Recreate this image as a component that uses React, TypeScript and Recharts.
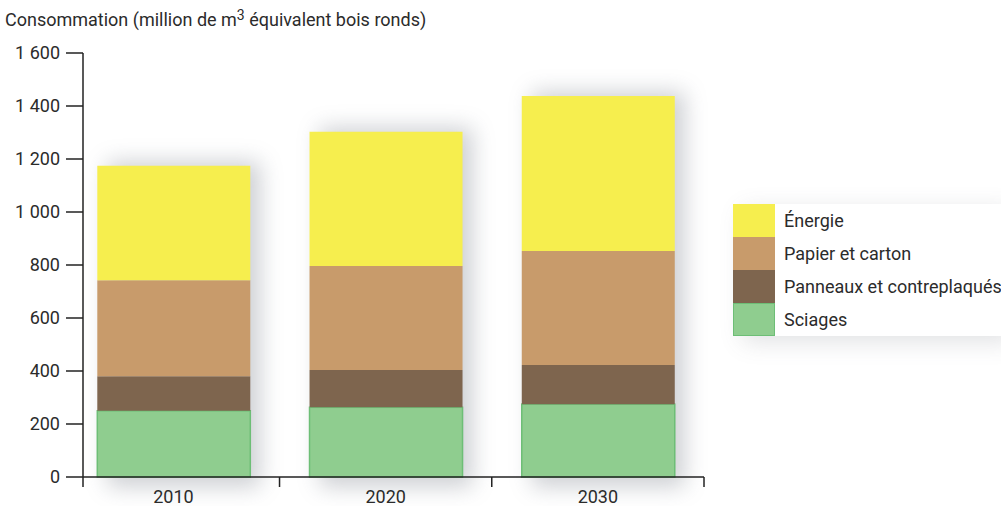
import React from "react";
import { BarChart, Bar, XAxis, YAxis } from "recharts";

const years = ["2010", "2020", "2030"];
const sciages = [250, 263, 275];
const panneaux = [130, 141, 148];
const papier = [362, 392, 430];
const energie = [433, 507, 585];
const yTicks = [0, 200, 400, 600, 800, 1000, 1200, 1400, 1600];

const series = [
  { key: "energie", name: "Énergie", color: "#f6ee4e" },
  { key: "papier", name: "Papier et carton", color: "#c89b6b" },
  { key: "panneaux", name: "Panneaux et contreplaqués", color: "#7e654e" },
  { key: "sciages", name: "Sciages", color: "#8fcd8f", stroke: "#6dbe76" },
];

const data = years.map((year, i) => ({
  idx: i,
  year,
  sciages: sciages[i],
  panneaux: panneaux[i],
  papier: papier[i],
  energie: energie[i],
}));

const FONT = "Roboto, 'Noto Sans', sans-serif";
const INK = "#2b2b2b";
const FS = 18;

const formatThousands = (v: number) =>
  v >= 1000 ? `${Math.floor(v / 1000)} ${String(v % 1000).padStart(3, "0")}` : String(v);

// bottom segment also paints the blurred shadow of the whole column
const SciagesShape = (props: any) => {
  const { x, y, width, height, payload } = props;
  const total =
    payload.sciages + payload.panneaux + payload.papier + payload.energie;
  const totalH = (height / payload.sciages) * total;
  const top = y + height - totalH;
  return (
    <g>
      <defs>
        <filter id="colShadow" x="-50%" y="-50%" width="200%" height="200%">
          <feGaussianBlur stdDeviation="11" />
        </filter>
      </defs>
      <rect
        x={x + 10}
        y={top - 4}
        width={width}
        height={totalH + 14}
        fill="#6f7681"
        opacity={0.34}
        filter="url(#colShadow)"
      />
      <rect
        x={x}
        y={y}
        width={width}
        height={height}
        fill="#8fcd8f"
        stroke="#6dbe76"
        strokeWidth={1.5}
      />
    </g>
  );
};

const XTick = (props: any) => {
  const { x, y, payload } = props;
  const v = payload.value;
  if (Number.isInteger(v)) {
    return (
      <text
        x={x}
        y={y + 26}
        textAnchor="middle"
        fontSize={FS}
        fontFamily={FONT}
        fill={INK}
      >
        {years[v]}
      </text>
    );
  }
  return <line x1={x} x2={x} y1={y} y2={y + 10} stroke="#222" strokeWidth={1.5} />;
};

const LegendBox = () => (
  <div
    style={{
      position: "absolute",
      left: 733,
      top: 204,
      background: "#fff",
      boxShadow: "10px 6px 22px rgba(90,95,105,0.18)",
      fontFamily: FONT,
      fontSize: FS,
      color: INK,
    }}
  >
    {series.map((s) => (
      <div key={s.key} style={{ display: "flex", alignItems: "center", height: 33 }}>
        <div
          style={{
            width: 42,
            height: 33,
            boxSizing: "border-box",
            background: s.color,
            border: s.stroke ? `1.5px solid ${s.stroke}` : "none",
          }}
        />
        <span style={{ marginLeft: 9, whiteSpace: "nowrap" }}>{s.name}</span>
      </div>
    ))}
  </div>
);

export default function App() {
  return (
    <div
      style={{
        position: "absolute",
        left: 0,
        top: 0,
        width: 1001,
        height: 506,
        background: "#fff",
        fontFamily: FONT,
        overflow: "hidden",
      }}
    >
      <div
        style={{
          position: "absolute",
          left: 5,
          top: 9,
          fontSize: FS,
          lineHeight: "22px",
          color: INK,
          whiteSpace: "nowrap",
        }}
      >
        Consommation (million de m
        <span style={{ fontSize: 14, position: "relative", top: -6 }}>3</span>{" "}
        équivalent bois ronds)
      </div>
      <BarChart
        width={1001}
        height={506}
        data={data}
        margin={{ top: 53, right: 297, bottom: 0, left: 0 }}
        style={{ position: "absolute", left: 0, top: 0 }}
      >
        <XAxis
          dataKey="idx"
          type="number"
          domain={[-0.426, 2.5]}
          ticks={[-0.426, 0, 0.5, 1, 1.5, 2, 2.5]}
          interval={0}
          tickLine={false}
          tickSize={0}
          tickMargin={0}
          height={29}
          axisLine={{ stroke: "#222", strokeWidth: 1.5 }}
          tick={<XTick />}
        />
        <YAxis
          domain={[0, 1600]}
          ticks={yTicks}
          width={83}
          tickSize={17}
          tickMargin={6}
          tickFormatter={formatThousands}
          axisLine={{ stroke: "#222", strokeWidth: 1.5 }}
          tickLine={{ stroke: "#222", strokeWidth: 1.5 }}
          tick={{ fontSize: FS, fill: INK, fontFamily: FONT }}
        />
        <Bar
          dataKey="sciages"
          name="Sciages"
          stackId="a"
          barSize={153}
          fill="#8fcd8f"
          shape={<SciagesShape />}
          isAnimationActive={false}
        />
        <Bar
          dataKey="panneaux"
          name="Panneaux et contreplaqués"
          stackId="a"
          barSize={153}
          fill="#7e654e"
          isAnimationActive={false}
        />
        <Bar
          dataKey="papier"
          name="Papier et carton"
          stackId="a"
          barSize={153}
          fill="#c89b6b"
          isAnimationActive={false}
        />
        <Bar
          dataKey="energie"
          name="Énergie"
          stackId="a"
          barSize={153}
          fill="#f6ee4e"
          isAnimationActive={false}
        />
      </BarChart>
      <LegendBox />
    </div>
  );
}
